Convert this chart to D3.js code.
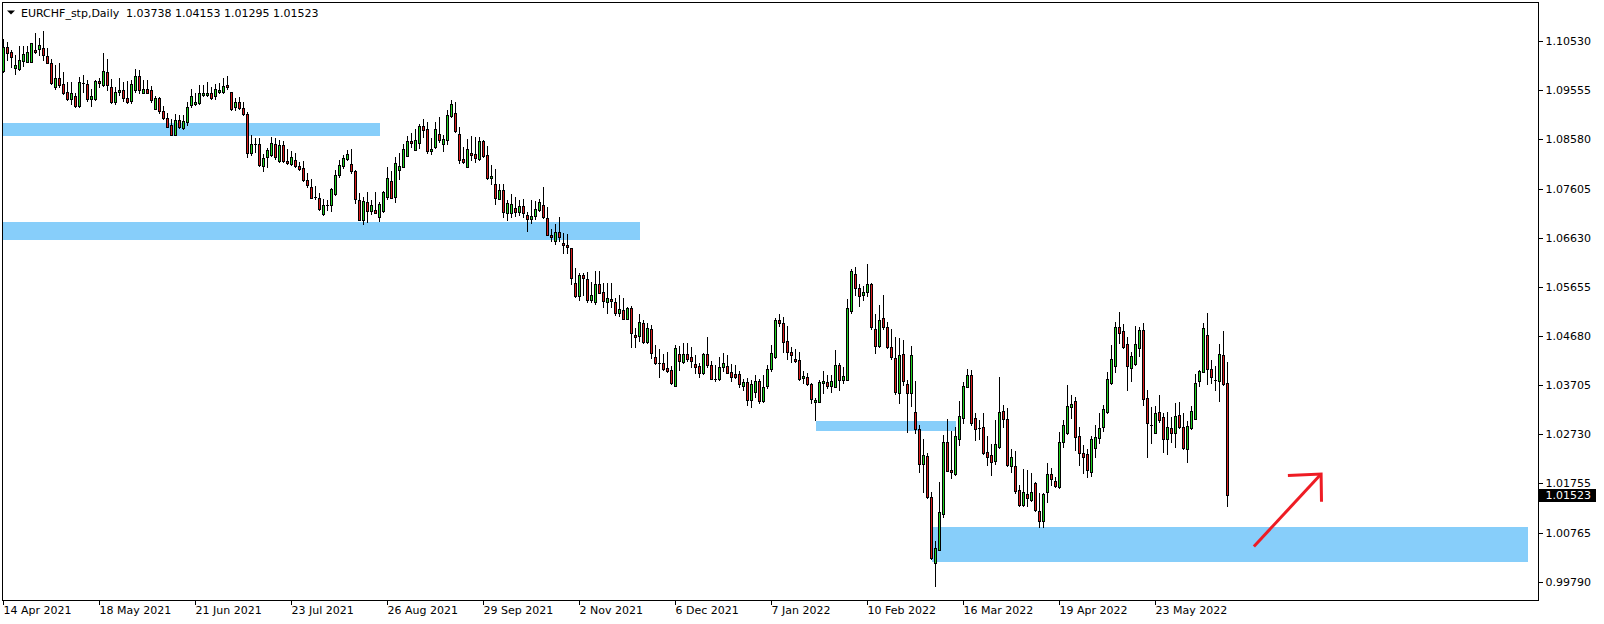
<!DOCTYPE html>
<html><head><meta charset="utf-8">
<script src="https://cdn.jsdelivr.net/npm/d3@7"></script>
<style>
html,body{margin:0;padding:0;background:#fff;}
svg{display:block;}
text{font-family:"DejaVu Sans",sans-serif;font-size:11px;fill:#000;}
</style></head><body>
<svg id="chart" width="1604" height="624"></svg>
<script>
// ---------- data ----------
const symbolTitle = "EURCHF_stp,Daily";
const ohlcTitle = "1.03738 1.04153 1.01295 1.01523";
const lastPrice = 1.01523;

const open = [
1.0995,1.1041,1.1031,1.1001,1.0998,1.1015,1.1012,1.1013,1.1036,1.1037,
1.1039,1.1024,1.1010,1.0963,1.0980,1.0968,1.0952,1.0939,1.0944,1.0925,
1.0970,1.0968,1.0939,1.0939,1.0975,1.0967,1.0993,1.0962,1.0933,1.0952,
1.0956,1.0940,1.0935,1.0956,1.0984,1.0951,1.0958,1.0956,1.0919,1.0941,
1.0915,1.0901,1.0887,1.0867,1.0897,1.0881,1.0893,1.0926,1.0929,1.0931,
1.0946,1.0947,1.0950,1.0944,1.0952,1.0952,1.0966,1.0952,1.0922,1.0932,
1.0920,1.0908,1.0831,1.0850,1.0850,1.0805,1.0823,1.0827,1.0850,1.0816,
1.0847,1.0815,1.0809,1.0817,1.0805,1.0801,1.0778,1.0763,1.0743,1.0742,
1.0709,1.0726,1.0727,1.0749,1.0788,1.0806,1.0820,1.0809,1.0795,1.0738,
1.0697,1.0733,1.0716,1.0717,1.0704,1.0716,1.0744,1.0775,1.0744,1.0797,
1.0804,1.0826,1.0855,1.0838,1.0852,1.0885,1.0878,1.0836,1.0844,1.0869,
1.0850,1.0857,1.0905,1.0911,1.0869,1.0819,1.0804,1.0832,1.0829,1.0820,
1.0855,1.0827,1.0782,1.0770,1.0740,1.0758,1.0711,1.0711,1.0721,1.0714,
1.0726,1.0708,1.0700,1.0706,1.0718,1.0728,1.0702,1.0669,1.0656,1.0674,
1.0653,1.0648,1.0642,1.0572,1.0547,1.0589,1.0581,1.0538,1.0534,1.0571,
1.0555,1.0534,1.0541,1.0534,1.0514,1.0519,1.0502,1.0524,1.0469,1.0467,
1.0494,1.0456,1.0481,1.0425,1.0413,1.0413,1.0403,1.0400,1.0369,1.0431,
1.0415,1.0431,1.0425,1.0411,1.0408,1.0393,1.0431,1.0409,1.0381,1.0381,
1.0406,1.0408,1.0395,1.0391,1.0391,1.0369,1.0375,1.0341,1.0357,1.0378,
1.0338,1.0369,1.0401,1.0425,1.0499,1.0493,1.0457,1.0435,1.0422,1.0420,
1.0383,1.0386,1.0372,1.0336,1.0337,1.0373,1.0375,1.0369,1.0367,1.0409,
1.0379,1.0379,1.0518,1.0591,1.0562,1.0549,1.0554,1.0571,1.0481,1.0448,
1.0503,1.0485,1.0445,1.0423,1.0355,1.0432,1.0371,1.0355,1.0316,1.0282,
1.0212,1.0229,1.0147,1.0016,1.0043,1.0114,1.0256,1.0202,1.0194,1.0263,
1.0305,1.0367,1.0389,1.0304,1.0284,1.0286,1.0236,1.0231,1.0218,1.0247,
1.0318,1.0302,1.0208,1.0209,1.0161,1.0131,1.0153,1.0141,1.0175,1.0119,
1.0100,1.0157,1.0194,1.0179,1.0168,1.0257,1.0274,1.0327,1.0338,1.0269,
1.0235,1.0233,1.0198,1.0244,1.0264,1.0287,1.0316,1.0373,1.0408,1.0485,
1.0477,1.0451,1.0403,1.0412,1.0443,1.0479,1.0344,1.0290,1.0275,1.0316,
1.0306,1.0262,1.0284,1.0274,1.0310,1.0286,1.0242,1.0285,1.0303,1.0377,
1.0396,1.0469,1.0402,1.0380,1.0377,1.0430,1.03738];

const high = [
1.1057,1.1052,1.1036,1.1026,1.1043,1.1044,1.1043,1.1049,1.1069,1.1059,
1.1074,1.1039,1.1019,1.1006,1.1010,1.0993,1.0973,1.0973,1.0950,1.0983,
1.0986,1.0976,1.0958,1.0976,1.0980,1.1029,1.1019,1.0979,1.0962,1.0980,
1.0973,1.0974,1.0976,1.0998,1.0996,1.0976,1.0976,1.0964,1.0945,1.0943,
1.0925,1.0910,1.0898,1.0909,1.0907,1.0907,1.0932,1.0958,1.0950,1.0966,
1.0966,1.0972,1.0962,1.0968,1.0970,1.0980,1.0984,1.0953,1.0940,1.0942,
1.0932,1.0913,1.0867,1.0860,1.0860,1.0829,1.0842,1.0862,1.0860,1.0857,
1.0855,1.0839,1.0836,1.0831,1.0814,1.0815,1.0791,1.0779,1.0766,1.0751,
1.0739,1.0738,1.0761,1.0797,1.0817,1.0827,1.0837,1.0839,1.0797,1.0751,
1.0744,1.0754,1.0738,1.0754,1.0734,1.0756,1.0803,1.0795,1.0823,1.0831,
1.0849,1.0864,1.0870,1.0878,1.0889,1.0898,1.0893,1.0860,1.0893,1.0903,
1.0867,1.0917,1.0937,1.0932,1.0883,1.0844,1.0858,1.0864,1.0862,1.0862,
1.0857,1.0846,1.0807,1.0799,1.0769,1.0770,1.0738,1.0750,1.0743,1.0738,
1.0739,1.0714,1.0738,1.0735,1.0740,1.0763,1.0723,1.0680,1.0690,1.0703,
1.0672,1.0670,1.0642,1.0602,1.0592,1.0593,1.0595,1.0575,1.0597,1.0597,
1.0572,1.0572,1.0572,1.0542,1.0549,1.0542,1.0526,1.0527,1.0483,1.0511,
1.0499,1.0493,1.0489,1.0450,1.0441,1.0432,1.0435,1.0408,1.0449,1.0447,
1.0454,1.0454,1.0445,1.0430,1.0413,1.0433,1.0465,1.0418,1.0410,1.0425,
1.0433,1.0430,1.0411,1.0409,1.0397,1.0382,1.0383,1.0380,1.0390,1.0381,
1.0390,1.0410,1.0449,1.0503,1.0511,1.0505,1.0487,1.0446,1.0442,1.0436,
1.0398,1.0393,1.0374,1.0344,1.0380,1.0398,1.0390,1.0390,1.0440,1.0413,
1.0405,1.0540,1.0601,1.0604,1.0571,1.0567,1.0610,1.0573,1.0512,1.0529,
1.0549,1.0495,1.0481,1.0465,1.0463,1.0459,1.0380,1.0447,1.0378,1.0290,
1.0263,1.0234,1.0158,1.0059,1.0178,1.0271,1.0302,1.0279,1.0287,1.0338,
1.0375,1.0402,1.0400,1.0315,1.0300,1.0315,1.0269,1.0253,1.0300,1.0385,
1.0331,1.0324,1.0243,1.0238,1.0171,1.0203,1.0201,1.0196,1.0178,1.0155,
1.0155,1.0214,1.0206,1.0188,1.0276,1.0300,1.0370,1.0350,1.0347,1.0287,
1.0251,1.0242,1.0269,1.0290,1.0314,1.0330,1.0396,1.0450,1.0495,1.0515,
1.0491,1.0466,1.0436,1.0487,1.0486,1.0493,1.0360,1.0327,1.0328,1.0350,
1.0315,1.0317,1.0307,1.0334,1.0336,1.0315,1.0299,1.0328,1.0392,1.0400,
1.0493,1.0514,1.0420,1.0408,1.0452,1.0478,1.04153];

const low = [
1.0993,1.1017,1.1003,1.0988,1.0996,1.1005,1.1012,1.1013,1.1029,1.1026,
1.1016,1.1010,1.0968,1.0958,1.0963,1.0948,1.0937,1.0929,1.0923,1.0922,
1.0953,1.0935,1.0925,1.0937,1.0962,1.0964,1.0956,1.0930,1.0929,1.0946,
1.0935,1.0931,1.0930,1.0953,1.0951,1.0950,1.0950,1.0933,1.0918,1.0911,
1.0898,1.0882,1.0866,1.0866,1.0880,1.0879,1.0887,1.0923,1.0927,1.0929,
1.0944,1.0944,1.0939,1.0938,1.0950,1.0950,1.0958,1.0917,1.0917,1.0918,
1.0907,1.0823,1.0827,1.0834,1.0805,1.0796,1.0803,1.0825,1.0820,1.0814,
1.0813,1.0809,1.0807,1.0803,1.0797,1.0776,1.0764,1.0741,1.0740,1.0718,
1.0708,1.0718,1.0716,1.0748,1.0784,1.0801,1.0817,1.0792,1.0732,1.0697,
1.0691,1.0695,1.0710,1.0711,1.0696,1.0714,1.0739,1.0741,1.0734,1.0780,
1.0803,1.0825,1.0844,1.0837,1.0842,1.0862,1.0832,1.0829,1.0842,1.0854,
1.0835,1.0849,1.0902,1.0872,1.0812,1.0812,1.0803,1.0817,1.0813,1.0817,
1.0824,1.0779,1.0770,1.0730,1.0739,1.0704,1.0698,1.0704,1.0706,1.0708,
1.0704,1.0677,1.0693,1.0700,1.0716,1.0702,1.0668,1.0657,1.0650,1.0657,
1.0633,1.0633,1.0571,1.0544,1.0539,1.0549,1.0534,1.0534,1.0532,1.0552,
1.0526,1.0514,1.0526,1.0509,1.0507,1.0501,1.0501,1.0445,1.0446,1.0458,
1.0453,1.0454,1.0423,1.0412,1.0386,1.0400,1.0396,1.0372,1.0368,1.0400,
1.0413,1.0418,1.0406,1.0394,1.0386,1.0392,1.0406,1.0381,1.0377,1.0380,
1.0398,1.0393,1.0377,1.0384,1.0367,1.0360,1.0331,1.0326,1.0347,1.0334,
1.0336,1.0365,1.0398,1.0423,1.0487,1.0436,1.0422,1.0416,1.0416,1.0379,
1.0373,1.0370,1.0334,1.0300,1.0336,1.0355,1.0365,1.0357,1.0367,1.0360,
1.0374,1.0379,1.0514,1.0548,1.0528,1.0539,1.0547,1.0481,1.0434,1.0445,
1.0481,1.0443,1.0422,1.0353,1.0335,1.0370,1.0277,1.0328,1.0274,1.0198,
1.0158,1.0146,1.0024,0.9971,1.0042,1.0108,1.0199,1.0185,1.0192,1.0251,
1.0295,1.0366,1.0291,1.0261,1.0262,1.0233,1.0211,1.0191,1.0213,1.0245,
1.0287,1.0208,1.0198,1.0155,1.0130,1.0130,1.0130,1.0140,1.0120,1.0088,
1.0088,1.0138,1.0171,1.0168,1.0165,1.0246,1.0273,1.0304,1.0241,1.0210,
1.0196,1.0187,1.0190,1.0226,1.0254,1.0279,1.0315,1.0372,1.0396,1.0454,
1.0443,1.0361,1.0378,1.0410,1.0428,1.0330,1.0227,1.0254,1.0274,1.0297,
1.0237,1.0232,1.0257,1.0247,1.0284,1.0242,1.0216,1.0283,1.0302,1.0369,
1.0395,1.0372,1.0374,1.0361,1.0339,1.0370,1.01295];

const close = [
1.1042,1.1029,1.1021,1.1006,1.1017,1.1028,1.1031,1.1049,1.1031,1.1046,
1.1025,1.1011,1.0971,1.0981,1.0966,1.0951,1.0939,1.0950,1.0925,1.0973,
1.0968,1.0939,1.0944,1.0974,1.0970,1.0994,1.0966,1.0933,1.0952,1.0957,
1.0941,1.0933,1.0968,1.0984,1.0956,1.0958,1.0951,1.0937,1.0941,1.0915,
1.0901,1.0883,1.0867,1.0897,1.0882,1.0895,1.0923,1.0945,1.0933,1.0951,
1.0950,1.0950,1.0940,1.0958,1.0956,1.0964,1.0963,1.0919,1.0932,1.0920,
1.0908,1.0831,1.0850,1.0849,1.0807,1.0821,1.0837,1.0852,1.0823,1.0848,
1.0815,1.0811,1.0823,1.0805,1.0800,1.0778,1.0768,1.0742,1.0744,1.0719,
1.0727,1.0728,1.0759,1.0787,1.0807,1.0821,1.0829,1.0795,1.0740,1.0697,
1.0735,1.0716,1.0728,1.0712,1.0730,1.0753,1.0781,1.0742,1.0811,1.0805,
1.0839,1.0855,1.0852,1.0857,1.0885,1.0877,1.0835,1.0840,1.0878,1.0857,
1.0858,1.0907,1.0929,1.0875,1.0817,1.0814,1.0840,1.0828,1.0821,1.0855,
1.0825,1.0782,1.0785,1.0741,1.0758,1.0713,1.0732,1.0730,1.0714,1.0726,
1.0711,1.0700,1.0706,1.0719,1.0734,1.0703,1.0669,1.0664,1.0674,1.0664,
1.0648,1.0644,1.0582,1.0547,1.0589,1.0582,1.0538,1.0549,1.0571,1.0553,
1.0536,1.0542,1.0536,1.0514,1.0522,1.0502,1.0524,1.0474,1.0466,1.0495,
1.0455,1.0483,1.0434,1.0414,1.0412,1.0402,1.0398,1.0374,1.0443,1.0418,
1.0431,1.0422,1.0418,1.0406,1.0394,1.0431,1.0410,1.0382,1.0379,1.0406,
1.0413,1.0394,1.0385,1.0386,1.0371,1.0375,1.0341,1.0372,1.0378,1.0338,
1.0367,1.0402,1.0433,1.0499,1.0493,1.0456,1.0436,1.0430,1.0418,1.0382,
1.0388,1.0371,1.0343,1.0340,1.0375,1.0378,1.0369,1.0378,1.0409,1.0379,
1.0388,1.0524,1.0596,1.0562,1.0547,1.0555,1.0571,1.0486,1.0448,1.0499,
1.0486,1.0445,1.0425,1.0357,1.0430,1.0378,1.0355,1.0430,1.0282,1.0212,
1.0230,1.0148,1.0026,1.0045,1.0117,1.0256,1.0200,1.0198,1.0268,1.0308,
1.0369,1.0389,1.0295,1.0282,1.0282,1.0234,1.0227,1.0216,1.0252,1.0316,
1.0302,1.0210,1.0226,1.0160,1.0131,1.0157,1.0145,1.0157,1.0121,1.0100,
1.0153,1.0194,1.0184,1.0169,1.0256,1.0290,1.0328,1.0332,1.0267,1.0234,
1.0227,1.0201,1.0263,1.0267,1.0285,1.0322,1.0381,1.0421,1.0485,1.0474,
1.0445,1.0408,1.0428,1.0452,1.0479,1.0342,1.0294,1.0288,1.0314,1.0300,
1.0262,1.0286,1.0274,1.0308,1.0286,1.0244,1.0289,1.0318,1.0373,1.0398,
1.0483,1.0402,1.0385,1.0377,1.0431,1.0371,1.01523];

// time-axis labels and the bar they sit on
const xTickLabels = ["14 Apr 2021","18 May 2021","21 Jun 2021","23 Jul 2021","26 Aug 2021","29 Sep 2021","2 Nov 2021","6 Dec 2021","7 Jan 2022","10 Feb 2022","16 Mar 2022","19 Apr 2022","23 May 2022"];
const xTickBars = [0,24,48,72,96,120,144,168,192,216,240,264,288];
// price-axis labels
const yTickValues = [1.10530,1.09555,1.08580,1.07605,1.06630,1.05655,1.04680,1.03705,1.02730,1.01755,1.00765,0.99790];

// drawn rectangles (bar index range, price range)
const zoneStartBar = [-10,-10,203,232];
const zoneEndBar   = [94,159,238,381];
const zoneTop      = [1.0891,1.0694,1.0298,1.0087];
const zoneBottom   = [1.0865,1.0658,1.0279,1.0019];
// hand-drawn arrow (bar index, price)
const arrowShaftBar = [312.6,329.4];
const arrowShaftPrice = [1.0049,1.0193];
const arrowHeadBar = [321.1,329.4,329.5];
const arrowHeadPrice = [1.0190,1.0193,1.0138];

// ---------- drawing ----------
const svg = d3.select("#chart");
const plot = {left:2.5, right:1538.5, top:2.5, bottom:600.5};
const nBars = open.length;
const x = d3.scaleLinear().domain([0, nBars-1]).range([3.5, 3.5 + 4*(nBars-1)]);
const y = d3.scaleLinear().domain([0.99790, 1.10530]).range([581.7, 41.4]);
const UP = "#1fd11f", DOWN = "#d81c1c", ZONE = "#87cefa";

svg.append("defs").append("clipPath").attr("id","clip")
  .append("rect").attr("x",plot.left).attr("y",plot.top)
  .attr("width",plot.right-plot.left).attr("height",plot.bottom-plot.top);

const g = svg.append("g").attr("clip-path","url(#clip)");

// zones
g.selectAll("rect.zone").data(zoneTop.map((t,i)=>i)).join("rect")
  .attr("class","zone")
  .attr("x", i => Math.round(x(zoneStartBar[i])))
  .attr("width", i => Math.round(x(zoneEndBar[i])) - Math.round(x(zoneStartBar[i])))
  .attr("y", i => Math.round(y(zoneTop[i])))
  .attr("height", i => Math.round(y(zoneBottom[i])) - Math.round(y(zoneTop[i])))
  .attr("fill", ZONE);

// candles
const bars = d3.range(nBars);
const cg = g.append("g").attr("shape-rendering","crispEdges");
cg.selectAll("line.wick").data(bars).join("line")
  .attr("x1", i => x(i)).attr("x2", i => x(i))
  .attr("y1", i => Math.round(y(Math.max(high[i],open[i],close[i]))))
  .attr("y2", i => Math.round(y(Math.min(low[i],open[i],close[i])))+1)
  .attr("stroke","#000").attr("stroke-width",1);

bars.forEach(i => {
  const top = Math.round(y(Math.max(open[i],close[i])));
  const bot = Math.round(y(Math.min(open[i],close[i])));
  const up = close[i] >= open[i];
  if (bot - top < 2) {
    cg.append("rect").attr("x", x(i)-1.5).attr("y", top).attr("width",3).attr("height", Math.max(bot-top,1)+0)
      .attr("fill","#000");
  } else {
    cg.append("rect").attr("x", x(i)-1).attr("y", top+0.5).attr("width",2).attr("height", bot-top)
      .attr("fill", up ? UP : DOWN).attr("stroke","#000").attr("stroke-width",1);
  }
});

// arrow
const lineXY = d3.line().x(d=>x(d[0])).y(d=>y(d[1]));
g.append("path").attr("d", lineXY(arrowShaftBar.map((b,i)=>[b,arrowShaftPrice[i]])))
  .attr("fill","none").attr("stroke","#ee1c24").attr("stroke-width",3);
g.append("path").attr("d", lineXY(arrowHeadBar.map((b,i)=>[b,arrowHeadPrice[i]])))
  .attr("fill","none").attr("stroke","#ee1c24").attr("stroke-width",3).attr("stroke-linejoin","miter");

// frame
svg.append("rect").attr("x",plot.left).attr("y",plot.top)
  .attr("width",plot.right-plot.left).attr("height",plot.bottom-plot.top)
  .attr("fill","none").attr("stroke","#000").attr("stroke-width",1).attr("shape-rendering","crispEdges");

// price axis
const yAxis = d3.axisRight(y).tickValues(yTickValues).tickFormat(d3.format(".5f")).tickSize(4).tickPadding(3).offset(0);
const ya = svg.append("g").attr("transform",`translate(${plot.right},0)`).call(yAxis);
ya.select(".domain").remove();
ya.selectAll(".tick").attr("transform", d => `translate(0,${Math.round(y(d))+0.5})`);
ya.selectAll(".tick line").attr("stroke","#000").attr("shape-rendering","crispEdges");
ya.selectAll(".tick text").attr("font-family","DejaVu Sans").attr("font-size",11).attr("fill","#000");

// time axis
const xAxis = d3.axisBottom(x).tickValues(xTickBars).tickFormat((d,i)=>xTickLabels[i]).tickSize(4).tickPadding(2).offset(0);
const xa = svg.append("g").attr("transform",`translate(0,${plot.bottom})`).call(xAxis);
xa.select(".domain").remove();
xa.selectAll(".tick line").attr("stroke","#000").attr("shape-rendering","crispEdges");
xa.selectAll(".tick text").attr("text-anchor","start").attr("dx",0)
  .attr("font-family","DejaVu Sans").attr("font-size",11).attr("fill","#000");

// current price tag
const ly = Math.round(y(lastPrice));
svg.append("rect").attr("x",plot.right+0.5).attr("y",ly-6).attr("width",57).attr("height",13).attr("fill","#000");
svg.append("text").attr("x",plot.right+7).attr("y",ly).attr("dy","0.35em").style("fill","#fff").text(d3.format(".5f")(lastPrice));

// header
svg.append("path").attr("d","M7,10.5 L15,10.5 L11,14.5 Z").attr("fill","#000");
svg.append("text").attr("x",21).attr("y",13).attr("dy","0.35em").text(symbolTitle);
svg.append("text").attr("x",126).attr("y",13).attr("dy","0.35em").text(ohlcTitle);
</script>
</body></html>
